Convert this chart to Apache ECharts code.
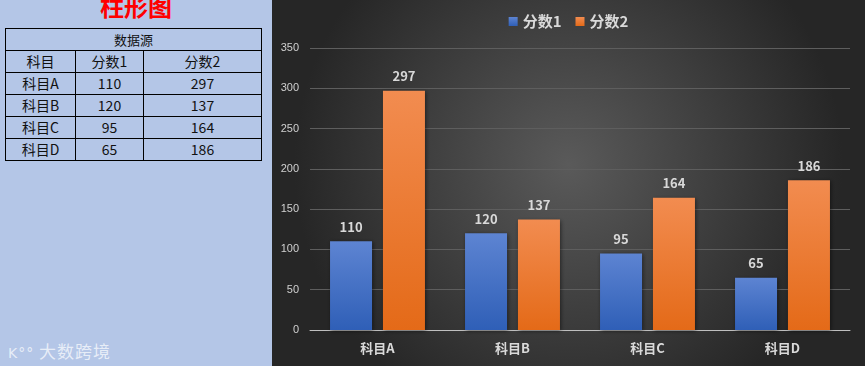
<!DOCTYPE html>
<html><head><meta charset="utf-8">
<script src="https://cdn.jsdelivr.net/npm/echarts@6/dist/echarts.min.js"></script>
<style>
html,body{margin:0;padding:0;width:865px;height:366px;overflow:hidden;background:#b4c6e7;font-family:"Noto Sans CJK SC","Noto Sans",sans-serif;}
#left{position:absolute;left:0;top:0;width:272px;height:366px;background:#b4c6e7;}
#title{position:absolute;left:0;top:-9px;width:272px;text-align:center;color:#ff0000;font-weight:bold;font-size:24px;line-height:30px;}
#tbl{position:absolute;left:5px;top:28px;border-collapse:collapse;font-size:14px;color:#111;}
#tbl td{border:1px solid #000;text-align:center;height:21px;padding:0;line-height:21px;}
#wm{position:absolute;left:8px;top:338px;color:rgba(255,255,255,0.7);font-size:17px;letter-spacing:1px;}
#wm span{font-size:14px;font-family:"DejaVu Sans";}
#chart{position:absolute;left:272px;top:0;width:593px;height:366px;}
</style></head>
<body>
<div id="left">
  <div id="title">柱形图</div>
  <table id="tbl"></table>
  <div id="wm"><span>K°°</span> 大数跨境</div>
</div>
<div id="chart"></div>
<script>
const categories = ['科目A','科目B','科目C','科目D'];
const seriesNames = ['分数1','分数2'];
const score1 = [110, 120, 95, 65];
const score2 = [297, 137, 164, 186];
const tableHeader = '数据源';
const firstColName = '科目';

// build table
(function(){
  const t = document.getElementById('tbl');
  let h = '<tr><td colspan="3" style="font-size:13px">' + tableHeader + '</td></tr>';
  h += '<tr><td style="width:69px">' + firstColName + '</td><td style="width:67px">' + seriesNames[0] + '</td><td style="width:117px">' + seriesNames[1] + '</td></tr>';
  for (let i = 0; i < categories.length; i++) {
    h += '<tr><td>' + categories[i] + '</td><td>' + score1[i] + '</td><td>' + score2[i] + '</td></tr>';
  }
  t.innerHTML = h;
})();

const chart = echarts.init(document.getElementById('chart'));
const lbl = {show:true, position:'top', distance:8, color:'#d9d9d9', fontSize:13, fontWeight:'bold', fontFamily:'Noto Sans CJK SC'};
const shadow = {shadowBlur:4, shadowColor:'rgba(0,0,0,0.5)', shadowOffsetX:1, shadowOffsetY:1};
chart.setOption({
  backgroundColor: new echarts.graphic.RadialGradient(0.5, 0.45, 0.75, [
    {offset:0, color:'#5a5a5a'}, {offset:1, color:'#262626'}
  ]),
  animation:false,
  legend:{
    top:9, left:'center', itemWidth:9, itemHeight:9, itemGap:14,
    icon:'rect',
    textStyle:{color:'#d9d9d9', fontSize:15, fontWeight:'bold', fontFamily:'Noto Sans CJK SC'},
    data: seriesNames
  },
  grid:{left:38, right:15, top:48, bottom:36},
  xAxis:{
    type:'category', data:categories,
    axisLine:{lineStyle:{color:'#bfbfbf', width:1}},
    axisTick:{show:false},
    axisLabel:{color:'#d9d9d9', fontSize:13, fontWeight:'bold', margin:12, fontFamily:'Noto Sans CJK SC'}
  },
  yAxis:{
    type:'value', min:0, max:350, interval:50,
    axisLine:{show:false}, axisTick:{show:false},
    axisLabel:{color:'#d0d0d0', fontSize:11, margin:11},
    splitLine:{lineStyle:{color:'#5e5e5e', width:1}}
  },
  series:[
    {name:seriesNames[0], type:'bar', data:score1, barWidth:42, barGap:'26%',
     itemStyle:Object.assign({color:new echarts.graphic.LinearGradient(0,0,0,1,[{offset:0,color:'#5d84d2'},{offset:1,color:'#2f5fb7'}])}, shadow),
     label:lbl},
    {name:seriesNames[1], type:'bar', data:score2, barWidth:42,
     itemStyle:Object.assign({color:new echarts.graphic.LinearGradient(0,0,0,1,[{offset:0,color:'#f28c50'},{offset:1,color:'#e46a18'}])}, shadow),
     label:lbl}
  ]
});
</script>
</body></html>
